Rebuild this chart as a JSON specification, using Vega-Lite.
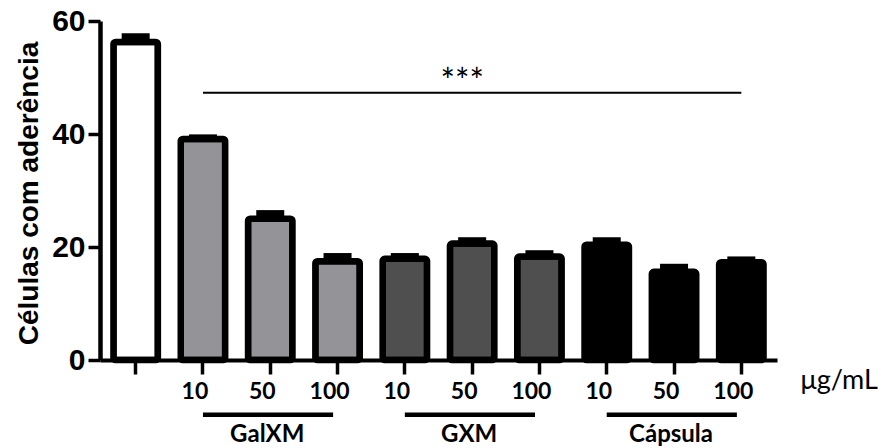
{
  "$schema": "https://vega.github.io/schema/vega-lite/v6.json",
  "width": 677,
  "height": 339,
  "autosize": "none",
  "padding": {"left": 100, "top": 21, "right": 104, "bottom": 88},
  "background": "white",
  "config": {"view": {"stroke": null}, "axis": {"grid": false}},
  "datasets": {
    "bars": [
      {"id": "Controle", "group": "Controle", "mean": 56.3, "upper": 57.3},
      {"id": "GalXM 10", "group": "GalXM", "mean": 39.1, "upper": 39.4},
      {"id": "GalXM 50", "group": "GalXM", "mean": 25.0, "upper": 26.0},
      {"id": "GalXM 100", "group": "GalXM", "mean": 17.5, "upper": 18.4},
      {"id": "GXM 10", "group": "GXM", "mean": 17.9, "upper": 18.4},
      {"id": "GXM 50", "group": "GXM", "mean": 20.6, "upper": 21.2},
      {"id": "GXM 100", "group": "GXM", "mean": 18.3, "upper": 18.9},
      {"id": "Cápsula 10", "group": "Cápsula", "mean": 20.4, "upper": 21.2},
      {"id": "Cápsula 50", "group": "Cápsula", "mean": 15.6, "upper": 16.5},
      {"id": "Cápsula 100", "group": "Cápsula", "mean": 17.3, "upper": 17.8}
    ],
    "groups": [
      {"group": "GalXM", "first": "GalXM 10", "mid": "GalXM 50", "last": "GalXM 100"},
      {"group": "GXM", "first": "GXM 10", "mid": "GXM 50", "last": "GXM 100"},
      {"group": "Cápsula", "first": "Cápsula 10", "mid": "Cápsula 50", "last": "Cápsula 100"}
    ],
    "signif": [
      {"label": "***", "from": "GalXM 10", "to": "Cápsula 100", "mid": "GXM 50"}
    ]
  },
  "layer": [
    {
      "data": {"name": "bars"},
      "mark": {"type": "bar", "stroke": "black", "strokeWidth": 6.5, "cornerRadius": 2},
      "encoding": {
        "x": {
          "field": "id", "type": "nominal", "sort": null,
          "scale": {
            "domain": ["Controle", "GalXM 10", "GalXM 50", "GalXM 100", "GXM 10", "GXM 50", "GXM 100", "Cápsula 10", "Cápsula 50", "Cápsula 100"],
            "paddingInner": 0.34, "paddingOuter": 0.2
          },
          "axis": {
            "labelExpr": "indexof(datum.value, ' ') < 0 ? '' : split(datum.value, ' ')[1]",
            "labelAngle": 0,
            "labelFont": "Lato", "labelFontWeight": "bold", "labelFontSize": 23, "labelColor": "black",
            "labelBaseline": "alphabetic", "labelPadding": 24, "labelOffset": -8,
            "domainColor": "black", "domainWidth": 4,
            "tickColor": "black", "tickWidth": 3.5, "tickSize": 14,
            "title": "μg/mL", "titleFont": "Lato", "titleFontWeight": "normal", "titleFontSize": 27, "titleColor": "black",
            "titleX": 700, "titleY": 28, "titleAlign": "left", "titleBaseline": "alphabetic"
          }
        },
        "y": {
          "field": "mean", "type": "quantitative",
          "scale": {"domain": [0, 60], "nice": false},
          "axis": {
            "values": [0, 20, 40, 60],
            "labelFont": "Liberation Sans", "labelFontWeight": "bold", "labelFontSize": 30, "labelColor": "black", "labelPadding": 3,
            "domainColor": "black", "domainWidth": 4.5,
            "tickColor": "black", "tickWidth": 3.5, "tickSize": 12,
            "title": "Células com aderência", "titleFont": "Liberation Sans", "titleFontWeight": "bold", "titleFontSize": 28, "titleColor": "black",
            "titleAngle": -90, "titleX": -63, "titleY": 172, "titleAlign": "center", "titleBaseline": "alphabetic"
          }
        },
        "color": {
          "field": "group", "type": "nominal",
          "scale": {"domain": ["Controle", "GalXM", "GXM", "Cápsula"], "range": ["#ffffff", "#939398", "#4f4f4f", "#000000"]},
          "legend": null
        }
      }
    },
    {
      "data": {"name": "bars"},
      "mark": {"type": "rule", "color": "black", "strokeWidth": 6},
      "encoding": {
        "x": {"field": "id", "type": "nominal", "sort": null},
        "y": {"field": "mean", "type": "quantitative"},
        "y2": {"field": "upper"}
      }
    },
    {
      "data": {"name": "bars"},
      "mark": {"type": "tick", "color": "black", "size": 28, "thickness": 6, "opacity": 1},
      "encoding": {
        "x": {"field": "id", "type": "nominal", "sort": null},
        "y": {"field": "upper", "type": "quantitative"}
      }
    },
    {
      "data": {"name": "groups"},
      "mark": {"type": "rule", "color": "black", "strokeWidth": 4.5},
      "encoding": {
        "x": {"field": "first", "type": "nominal"},
        "x2": {"field": "last", "bandPosition": 0.4},
        "y": {"datum": -9.7, "type": "quantitative"}
      }
    },
    {
      "data": {"name": "groups"},
      "mark": {"type": "text", "font": "Lato", "fontWeight": "bold", "fontSize": 24, "color": "black", "baseline": "alphabetic", "align": "center", "dx": -3},
      "encoding": {
        "x": {"field": "mid", "type": "nominal"},
        "y": {"datum": -14.5, "type": "quantitative"},
        "text": {"field": "group"}
      }
    },
    {
      "data": {"name": "signif"},
      "mark": {"type": "rule", "color": "black", "strokeWidth": 2},
      "encoding": {
        "x": {"field": "from", "type": "nominal"},
        "x2": {"field": "to"},
        "y": {"datum": 47.3, "type": "quantitative"}
      }
    },
    {
      "data": {"name": "signif"},
      "mark": {"type": "text", "font": "Lato", "fontSize": 34, "color": "black", "baseline": "alphabetic", "align": "center", "dx": -10},
      "encoding": {
        "x": {"field": "mid", "type": "nominal"},
        "y": {"datum": 47.3, "type": "quantitative"},
        "text": {"field": "label"}
      }
    }
  ]
}
